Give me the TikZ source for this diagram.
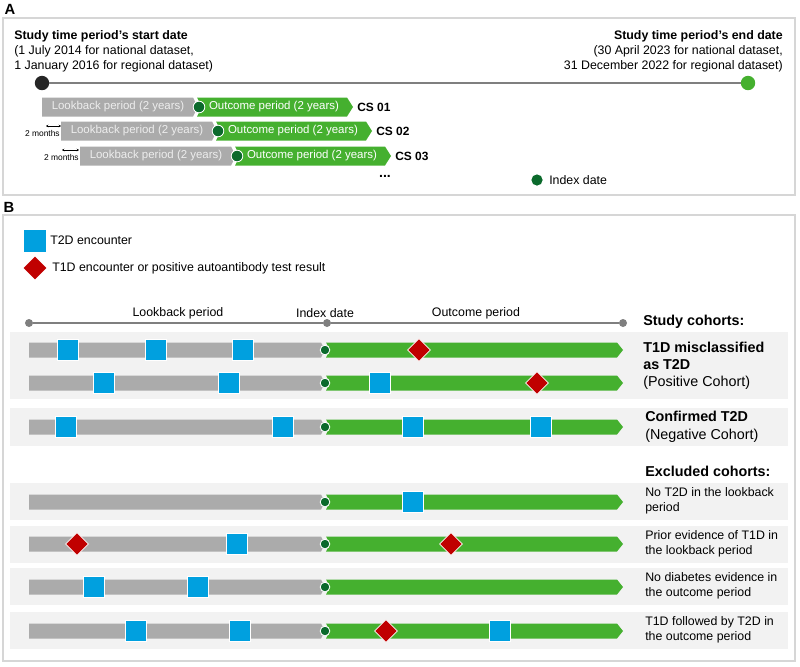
\documentclass[tikz,border=0pt]{standalone}
\usepackage{fontspec}
\setmainfont{Liberation Sans}
\usetikzlibrary{arrows.meta,shapes.geometric}
\definecolor{lbgray}{HTML}{ABABAB}
\definecolor{ocgreen}{HTML}{45B02F}
\definecolor{idxgreen}{HTML}{0B6A2C}
\definecolor{t2dblue}{HTML}{00A0DF}
\definecolor{t1dred}{HTML}{C00000}
\definecolor{bandgray}{HTML}{F2F2F2}
\definecolor{framegray}{HTML}{D6D6D6}
\definecolor{axisgray}{HTML}{7F7F7F}

\begin{document}
\begin{tikzpicture}[x=0.025cm, y=-0.025cm, font=\fontsize{8.8}{10.6}\selectfont,
  txt/.style={inner sep=0pt},
  panel/.style={draw=framegray, line width=1pt},
  idx/.style={circle, fill=idxgreen, draw=white, line width=0.6pt, inner sep=0pt},
  t2d/.style={rectangle, fill=t2dblue, draw=white, line width=0.5pt, minimum size=0.53cm, inner sep=0pt},
  t1d/.style={diamond, fill=t1dred, draw=white, line width=0.5pt, minimum size=0.58cm, inner sep=0pt},
  axdot/.style={circle, fill=axisgray, minimum size=0.2cm, inner sep=0pt},
  months/.style={{Stealth[length=1.6pt,width=1.8pt]}-{Stealth[length=1.6pt,width=1.8pt]}, line width=0.4pt}]
\useasboundingbox (0,0) rectangle (800,666);

% ---------------- Panel A ----------------
\node[txt, font=\fontsize{10.5}{12}\bfseries\selectfont] (labA) at (10,9) {A};
\draw[panel] (3,18) rectangle (795,195);

\node[txt, anchor=west, align=left] (startd) at (14,51) {\textbf{Study time period's start date}\\(1 July 2014 for national dataset,\\1 January 2016 for regional dataset)};
\node[txt, anchor=east, align=right] (endd) at (783,51) {\textbf{Study time period's end date}\\(30 April 2023 for national dataset,\\31 December 2022 for regional dataset)};

% Study period timeline
\node[circle, fill=black!85, minimum size=0.36cm, inner sep=0pt] (tstart) at (42,83) {};
\node[circle, fill=ocgreen, minimum size=0.36cm, inner sep=0pt] (tend) at (748,83) {};
\draw[axisgray, line width=1.4pt] (tstart) -- (tend);

% Cross-sections (shifted by 2 months)
\foreach \dx/\y/\cs [count=\i] in {0/107/01, 19/131/02, 38/156/03} {
  \fill[lbgray] ({42+\dx},{\y-9.5}) -- ({193+\dx},{\y-9.5}) -- ({198+\dx},\y) -- ({193+\dx},{\y+9.5}) -- ({42+\dx},{\y+9.5}) -- cycle;
  \fill[ocgreen] ({197+\dx},{\y-9.5}) -- ({347+\dx},{\y-9.5}) -- ({353+\dx},\y) -- ({347+\dx},{\y+9.5}) -- ({197+\dx},{\y+9.5}) -- ({202+\dx},\y) -- cycle;
  \node[txt, text=white!93!black, font=\fontsize{8.15}{10}\selectfont] (lb\i) at ({118+\dx},\y) {Lookback period (2 years)};
  \node[txt, text=white, font=\fontsize{8.15}{10}\selectfont] (oc\i) at ({274+\dx},\y) {Outcome period (2 years)};
  \node[idx, minimum size=0.29cm] (ix\i) at ({199+\dx},\y) {};
  \node[txt, anchor=west, font=\fontsize{8.5}{10}\bfseries\selectfont] (cs\i) at ({357+\dx},\y) {CS \cs};
}

\coordinate (m1a) at (46,126);
\coordinate (m1b) at (61,126);
\coordinate (m2a) at (62,150);
\coordinate (m2b) at (79,150);
\draw[months] (m1a) -- (m1b);
\draw[months] (m2a) -- (m2b);
\node[txt, anchor=east, font=\fontsize{6}{7}\selectfont] (mt1) at (60,133) {2 months};
\node[txt, anchor=east, font=\fontsize{6}{7}\selectfont] (mt2) at (79,157) {2 months};

\node[txt, font=\bfseries] (more) at (385,176) {...};
\node[idx, draw=none, minimum size=0.28cm] (lgix) at (537,180) {};
\node[txt, anchor=west] (lgixt) at (549,180) {Index date};

% ---------------- Panel B ----------------
\node[txt, font=\fontsize{10.5}{12}\bfseries\selectfont] (labB) at (9,207) {B};
\draw[panel] (3,215) rectangle (795,661);

% Legend
\node[t2d, draw=none] (lgsq) at (35,241) {};
\node[txt, anchor=west] (lgsqt) at (50,240) {T2D encounter};
\node[t1d, draw=none] (lgdm) at (35,268) {};
\node[txt, anchor=west] (lgdmt) at (52,268) {T1D encounter or positive autoantibody test result};

% Axis
\node[axdot] (ax0) at (29,323) {};
\node[axdot] (ax1) at (327,323) {};
\node[axdot] (ax2) at (623,323) {};
\draw[axisgray, line width=1.3pt] (ax0) -- (ax1) -- (ax2);
\node[txt] (axlb) at (178,313) {Lookback period};
\node[txt] (axix) at (325,313) {Index date};
\node[txt] (axoc) at (476,313) {Outcome period};

% Row bands
\foreach \ya/\yb in {332/399, 408/446, 483/520, 526/563, 568/605, 612/649}
  \fill[bandgray] (10,\ya) rectangle (788,\yb);

% Bars
\foreach \y [count=\i] in {350,383,427,502,544,587,631} {
  \fill[lbgray] (29,{\y-7.5}) -- (321,{\y-7.5}) -- (325,\y) -- (321,{\y+7.5}) -- (29,{\y+7.5}) -- cycle;
  \fill[ocgreen] (326,{\y-7.5}) -- (617,{\y-7.5}) -- (623,\y) -- (617,{\y+7.5}) -- (326,{\y+7.5}) -- (330,\y) -- cycle;
  \node[idx, minimum size=0.24cm] (bx\i) at (325,\y) {};
}

% T2D encounters
\foreach \x/\y [count=\i] in {68/350, 156/350, 243/350, 104/383, 229/383, 380/383,
    66/427, 283/427, 413/427, 541/427, 413/502, 237/544, 94/587, 198/587,
    136/631, 240/631, 500/631}
  \node[t2d] (enc\i) at (\x,\y) {};

% T1D encounters / positive autoantibody
\foreach \x/\y [count=\i] in {419/350, 537/383, 77/544, 451/544, 386/631}
  \node[t1d] (pos\i) at (\x,\y) {};

% Cohort labels
\node[txt, anchor=west, font=\fontsize{10.2}{12}\bfseries\selectfont] (hdstudy) at (643,322) {Study cohorts:};
\node[txt, anchor=west, align=left, font=\fontsize{10.2}{12.2}\selectfont] (cpos) at (643,366) {\textbf{T1D misclassified}\\\textbf{as T2D}\\(Positive Cohort)};
\node[txt, anchor=west, align=left, font=\fontsize{10.2}{12.6}\selectfont] (cneg) at (645,427) {\textbf{Confirmed T2D}\\(Negative Cohort)};
\node[txt, anchor=west, font=\fontsize{10.2}{12}\bfseries\selectfont] (hdexcl) at (645,471) {Excluded cohorts:};
\node[txt, anchor=west, align=left, font=\fontsize{8.8}{11}\selectfont] (ex1) at (645,501) {No T2D in the lookback\\period};
\node[txt, anchor=west, align=left, font=\fontsize{8.8}{11}\selectfont] (ex2) at (645,544) {Prior evidence of T1D in\\the lookback period};
\node[txt, anchor=west, align=left, font=\fontsize{8.8}{11}\selectfont] (ex3) at (645,586) {No diabetes evidence in\\the outcome period};
\node[txt, anchor=west, align=left, font=\fontsize{8.8}{11}\selectfont] (ex4) at (645,630) {T1D followed by T2D in\\the outcome period};

\end{tikzpicture}
\end{document}
